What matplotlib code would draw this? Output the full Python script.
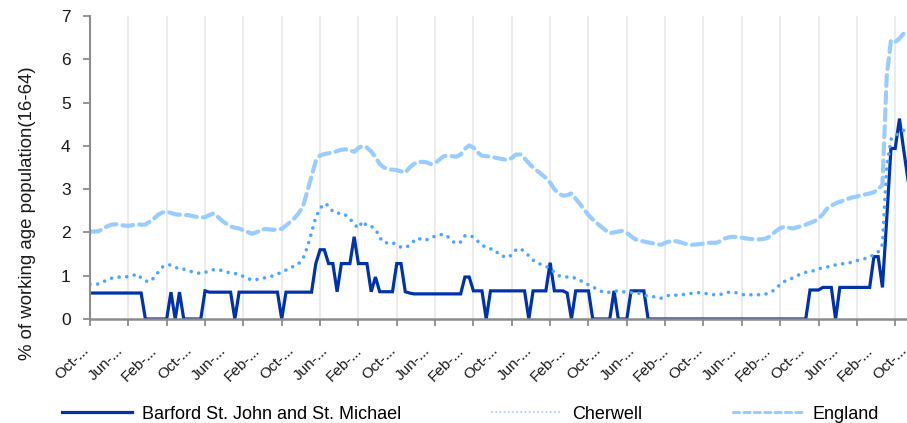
import matplotlib.pyplot as plt
from matplotlib.lines import Line2D
from matplotlib.transforms import ScaledTranslation

plt.rcParams['font.family'] = ['Liberation Sans', 'DejaVu Sans']

# monthly claimant rate, % of working age population (16-64)
barford = [
    0.6, 0.6, 0.6, 0.6, 0.6, 0.6, 0.6, 0.6, 0.6, 0.6,
    0.6, 0.6, 0.6, 0, 0, 0, 0, 0, 0, 0.62,
    0, 0.62, 0, 0, 0, 0, 0, 0.65, 0.62, 0.62,
    0.62, 0.62, 0.62, 0.62, 0, 0.62, 0.62, 0.62, 0.62, 0.62,
    0.62, 0.62, 0.62, 0.62, 0.62, 0, 0.62, 0.62, 0.62, 0.62,
    0.62, 0.62, 0.62, 1.28, 1.6, 1.6, 1.28, 1.28, 0.63, 1.28,
    1.28, 1.28, 1.9, 1.28, 1.28, 1.28, 0.63, 0.97, 0.63, 0.63,
    0.63, 0.63, 1.28, 1.28, 0.63, 0.6, 0.58, 0.58, 0.58, 0.58,
    0.58, 0.58, 0.58, 0.58, 0.58, 0.58, 0.58, 0.58, 0.97, 0.97,
    0.65, 0.65, 0.65, 0, 0.65, 0.65, 0.65, 0.65, 0.65, 0.65,
    0.65, 0.65, 0.65, 0, 0.65, 0.65, 0.65, 0.65, 1.3, 0.65,
    0.65, 0.65, 0.6, 0, 0.65, 0.65, 0.65, 0.65, 0, 0,
    0, 0, 0, 0.65, 0, 0, 0, 0.65, 0.65, 0.65,
    0.65, 0, 0, 0, 0, 0, 0, 0, 0, 0,
    0, 0, 0, 0, 0, 0, 0, 0, 0, 0,
    0, 0, 0, 0, 0, 0, 0, 0, 0, 0,
    0, 0, 0, 0, 0, 0, 0, 0, 0, 0.67,
    0.67, 0.67, 0.73, 0.73, 0.73, 0, 0.73, 0.73, 0.73, 0.73,
    0.73, 0.73, 0.73, 0.73, 1.44, 1.44, 0.73, 2.3, 3.94, 3.94,
    4.63, 3.9, 3.21,
]

cherwell = [
    0.80, 0.80, 0.81, 0.85, 0.91, 0.94, 0.96, 0.97, 0.97, 0.98,
    1.00, 1.04, 0.95, 0.88, 0.86, 0.95, 1.08, 1.20, 1.25, 1.25,
    1.20, 1.15, 1.15, 1.12, 1.09, 1.07, 1.05, 1.08, 1.10, 1.14,
    1.14, 1.12, 1.09, 1.06, 1.05, 1.04, 0.98, 0.94, 0.90, 0.91,
    0.93, 0.95, 0.97, 1.00, 1.04, 1.08, 1.13, 1.19, 1.22, 1.28,
    1.40, 1.65, 2.00, 2.35, 2.55, 2.67, 2.62, 2.48, 2.44, 2.45,
    2.40, 2.32, 2.19, 2.10, 2.26, 2.15, 2.14, 2.08, 1.88, 1.76,
    1.76, 1.77, 1.70, 1.66, 1.65, 1.70, 1.80, 1.87, 1.82, 1.83,
    1.86, 1.92, 1.94, 1.96, 1.90, 1.80, 1.74, 1.78, 1.92, 1.94,
    1.89, 1.80, 1.71, 1.65, 1.62, 1.60, 1.49, 1.45, 1.42, 1.48,
    1.60, 1.63, 1.55, 1.46, 1.36, 1.29, 1.26, 1.22, 1.16, 1.08,
    1.00, 0.98, 0.97, 0.97, 0.94, 0.90, 0.83, 0.79, 0.75, 0.68,
    0.64, 0.61, 0.62, 0.65, 0.64, 0.63, 0.62, 0.61, 0.61, 0.59,
    0.55, 0.53, 0.52, 0.50, 0.48, 0.52, 0.55, 0.55, 0.55, 0.56,
    0.58, 0.59, 0.60, 0.61, 0.60, 0.58, 0.57, 0.55, 0.57, 0.59,
    0.62, 0.62, 0.60, 0.57, 0.55, 0.56, 0.56, 0.56, 0.56, 0.59,
    0.63, 0.70, 0.80, 0.87, 0.91, 0.95, 1.00, 1.05, 1.08, 1.09,
    1.12, 1.16, 1.18, 1.20, 1.23, 1.25, 1.27, 1.28, 1.29, 1.32,
    1.35, 1.37, 1.40, 1.44, 1.48, 1.55, 1.72, 3.50, 4.15, 4.25,
    4.28, 4.36, 4.42,
]

england = [
    2.02, 2.02, 2.03, 2.08, 2.14, 2.18, 2.19, 2.17, 2.16, 2.15,
    2.17, 2.19, 2.18, 2.18, 2.25, 2.32, 2.41, 2.46, 2.48, 2.45,
    2.42, 2.41, 2.40, 2.40, 2.38, 2.36, 2.35, 2.35, 2.40, 2.44,
    2.36, 2.27, 2.20, 2.14, 2.11, 2.09, 2.05, 2.01, 1.97, 2.00,
    2.04, 2.08, 2.07, 2.06, 2.07, 2.08, 2.16, 2.24, 2.33, 2.45,
    2.60, 2.95, 3.30, 3.65, 3.78, 3.81, 3.83, 3.84, 3.88, 3.91,
    3.92, 3.90, 3.86, 3.95, 4.00, 3.96, 3.87, 3.74, 3.58, 3.50,
    3.46, 3.45, 3.44, 3.41, 3.38, 3.50, 3.58, 3.63, 3.63, 3.62,
    3.58, 3.60, 3.68, 3.76, 3.78, 3.76, 3.75, 3.80, 3.93, 4.01,
    3.96, 3.85, 3.77, 3.76, 3.75, 3.73, 3.71, 3.69, 3.67, 3.72,
    3.80, 3.80, 3.71, 3.60, 3.50, 3.42, 3.34, 3.26, 3.15, 3.00,
    2.90, 2.85, 2.86, 2.90, 2.78, 2.66, 2.53, 2.40, 2.30, 2.21,
    2.13, 2.05, 1.98, 2.00, 2.02, 2.04, 1.99, 1.91, 1.84, 1.81,
    1.79, 1.77, 1.75, 1.73, 1.71, 1.76, 1.79, 1.80, 1.79, 1.76,
    1.73, 1.71, 1.72, 1.73, 1.74, 1.76, 1.76, 1.76, 1.80, 1.86,
    1.89, 1.90, 1.89, 1.88, 1.86, 1.85, 1.84, 1.84, 1.85, 1.87,
    1.95, 2.03, 2.10, 2.13, 2.11, 2.09, 2.12, 2.15, 2.18, 2.22,
    2.26, 2.32, 2.42, 2.55, 2.62, 2.67, 2.71, 2.74, 2.78, 2.81,
    2.83, 2.86, 2.88, 2.90, 2.93, 3.00, 3.10, 5.60, 6.44, 6.40,
    6.48, 6.60, 6.66,
]

month_labels = ['Oct-...', 'Jun-...', 'Feb-...'] * 8 + ['Oct-...']

names = ['Barford St. John and St. Michael', 'Cherwell', 'England']

months = list(range(len(barford)))

fig = plt.figure(figsize=(9.07, 4.23), dpi=100)
ax = fig.add_axes([90 / 907, 1 - 319 / 423, 818 / 907, 303 / 423])

ax.plot(months, barford, color='#0033aa', lw=2.3, solid_joinstyle='miter')
ax.plot(months, cherwell, color='#4da6ff', lw=2.6, linestyle=(0, (0.01, 2.1)),
        dash_capstyle='round')
ax.plot(months, england, color='#99ccff', lw=3.0, linestyle=(0, (2.6, 1.5)),
        dash_capstyle='round')

ax.set_xlim(0, 192)
ax.set_ylim(0, 7)
ax.set_yticks(range(8))

# tick marks every 9 months, labels every 8 months
ax.xaxis.remove_overlapping_locs = False
ax.set_xticks(range(0, 193, 9))
ax.set_xticklabels([])
ax.set_xticks(range(0, 193, 8), month_labels, minor=True)
ax.tick_params(axis='x', which='major', length=5, width=1.3, color='#8c8c8c')
ax.tick_params(axis='x', which='minor', length=0, pad=21, labelsize=11,
               labelcolor='#1a1a1a')
shift = ScaledTranslation(-3 / 100, 0, fig.dpi_scale_trans)
for lab in ax.get_xticklabels(minor=True):
    lab.set_rotation(45)
    lab.set_rotation_mode('anchor')
    lab.set_ha('right')
    lab.set_va('center')
    lab.set_transform(lab.get_transform() + shift)

ax.tick_params(axis='y', length=5, width=1.3, color='#8c8c8c', labelsize=12.5,
               labelcolor='#1a1a1a', pad=9)

ax.grid(axis='x', which='major', color='#ebebeb', lw=1.5)
ax.set_axisbelow(True)
for side in ['top', 'right']:
    ax.spines[side].set_visible(False)
ax.spines['left'].set_color('#8c8c8c')
ax.spines['left'].set_linewidth(1.5)
ax.spines['bottom'].set_color('#8c8c8c')
ax.spines['bottom'].set_linewidth(1.8)

ax.set_ylabel('% of working age population(16-64)', fontsize=13.4, color='#1a1a1a')
ax.yaxis.set_label_coords(-0.066, 0.348)

handles = [
    Line2D([], [], color='#0033aa', lw=2.3),
    Line2D([], [], color='#4da6ff', lw=1.5, linestyle=(0, (0.01, 2.0)),
           dash_capstyle='round', alpha=0.5),
    Line2D([], [], color='#99ccff', lw=2.2, linestyle=(0, (2.0, 1.4)),
           dash_capstyle='round'),
]
fig.legend(handles, names, loc='center left', bbox_to_anchor=(62 / 907, 9 / 423),
           ncol=3, frameon=False, fontsize=13, handlelength=3.9,
           handletextpad=0.55, columnspacing=5.0, borderpad=0, borderaxespad=0)

fig.savefig('out.png', dpi=100)
